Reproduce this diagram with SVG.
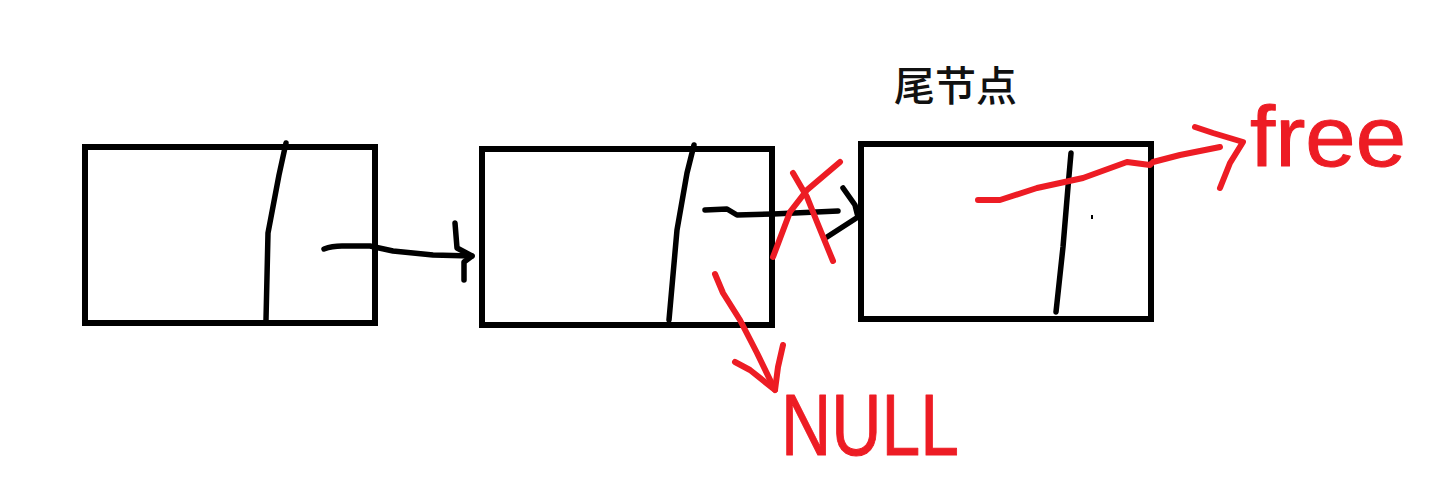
<svg xmlns="http://www.w3.org/2000/svg" width="1438" height="477" viewBox="0 0 1438 477">
<style>
.box{fill:none;stroke:#000;stroke-width:6}
.ink{fill:none;stroke:#000;stroke-width:5.5;stroke-linecap:round;stroke-linejoin:round}
.red{fill:none;stroke:#ed1c24;stroke-width:6;stroke-linecap:round;stroke-linejoin:round}
.hand{font-family:"Liberation Sans",sans-serif;fill:#ed1c24;stroke:#ed1c24;stroke-width:1;stroke-linejoin:round}
</style>
<rect width="1438" height="477" fill="#fff"/>
<g id="node1">
<rect class="box" x="85" y="147" width="290" height="176"/>
<path class="ink" d="M286,143 L279,175 L268,233 L266,320"/>
</g>
<g id="node2">
<rect class="box" x="482" y="149" width="290" height="176"/>
<path class="ink" d="M694,145 L687,173 L677,230 L669,320"/>
</g>
<g id="node3">
<rect class="box" x="861" y="144" width="290" height="175"/>
<path class="ink" d="M1071,153 L1068,187 L1063,247 L1056,312"/>
<rect x="1148" y="203" width="6" height="8" fill="#000"/>
<rect x="1091" y="215" width="2" height="4" fill="#000"/>
</g>
<g id="label-tail">
<text x="894" y="101" font-family="'Noto Sans CJK SC',sans-serif" font-size="41" font-weight="500" fill="#111">尾节点</text>
</g>
<g id="connectors">
<path class="ink" d="M324,249 Q332,246 342,246 L370,246 L393,251 L433,255 L472,256"/>
<path class="ink" d="M455,223 L457,248 L472,256 L464,262 L464,280"/>
<path class="ink" d="M705,210 L727,209 L737,215 L773,214 L838,211"/>
<path class="ink" d="M843,188 L855,205 L858,217 L827,237"/>
<path class="red" d="M840,162 L807,190 L790,212 L773,257"/>
<path class="red" d="M793,173 L807,197 L817,222 L833,261"/>
<path class="red" d="M978,200 L1000,200 L1037,188 L1083,178 L1127,162 L1150,165 L1153,162 L1180,155 L1220,147"/>
<path class="red" d="M1195,127 L1213,133 L1243,142 L1230,163 L1220,188"/>
<path class="red" d="M715,274 L723,293 L740,320 L757,353 L775,390"/>
<path class="red" d="M735,362 L750,370 L775,390 L778,367 L783,345"/>
</g>
<g id="label-free">
<text class="hand" x="1250" y="166" font-size="86" textLength="156" lengthAdjust="spacingAndGlyphs">free</text>
</g>
<g id="label-null">
<text class="hand" x="781" y="455" font-size="88" textLength="178" lengthAdjust="spacingAndGlyphs">NULL</text>
</g>
</svg>
